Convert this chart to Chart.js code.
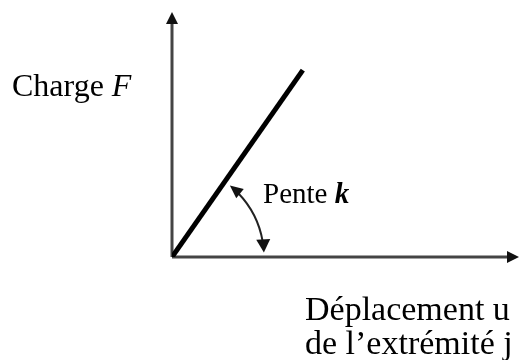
<!DOCTYPE html>
<html>
<head>
<meta charset="utf-8">
<script src="https://cdn.jsdelivr.net/npm/chart.js@4.4.1/dist/chart.umd.min.js"></script>
<style>
  html, body { margin: 0; padding: 0; background: #fff; }
  #wrap { width: 520px; height: 360px; }
</style>
</head>
<body>
<div id="wrap"><canvas id="diagram"></canvas></div>
<script>
// Linear load-displacement line, in axis units (0..100 on both axes)
const lineX = [0, 37.7];
const lineY = [0, 76.3];
const axisMax = 100;

const yLabel = ['Charge ', 'F'];
const xLabel = ['Déplacement u', 'de l\u2019extrémité j'];
const slopeLabel = ['Pente ', 'k'];

const serif = '"Liberation Serif", "Times New Roman", serif';

// filled triangle with its tip at (x, y), pointing along angle a
function arrowHead(ctx, x, y, a, len, half) {
  ctx.save();
  ctx.translate(x, y);
  ctx.rotate(a);
  ctx.beginPath();
  ctx.moveTo(0, 0);
  ctx.lineTo(-len, -half);
  ctx.lineTo(-len, half);
  ctx.closePath();
  ctx.fill();
  ctx.restore();
}

const sketchPlugin = {
  id: 'sketch',
  beforeDatasetsDraw(chart) {
    const ctx = chart.ctx;
    const xs = chart.scales.x, ys = chart.scales.y;
    const ox = xs.getPixelForValue(0), oy = ys.getPixelForValue(0);
    const xEnd = xs.getPixelForValue(axisMax), yEnd = ys.getPixelForValue(axisMax);

    // axes
    ctx.save();
    ctx.strokeStyle = '#444';
    ctx.fillStyle = '#111';
    ctx.lineWidth = 3;
    ctx.beginPath();
    ctx.moveTo(ox, oy);
    ctx.lineTo(ox, yEnd + 8);
    ctx.moveTo(ox, oy);
    ctx.lineTo(xEnd - 8, oy);
    ctx.stroke();
    arrowHead(ctx, ox, yEnd, -Math.PI / 2, 12, 6);
    arrowHead(ctx, xEnd, oy, 0, 12, 6);
    ctx.restore();
  },
  afterDatasetsDraw(chart) {
    const ctx = chart.ctx;
    const xs = chart.scales.x, ys = chart.scales.y;
    const ox = xs.getPixelForValue(0), oy = ys.getPixelForValue(0);
    const lx = xs.getPixelForValue(lineX[1]), ly = ys.getPixelForValue(lineY[1]);
    const theta = Math.atan2(oy - ly, lx - ox);

    // slope angle arc with arrows on both ends
    const r = 92;
    const a0 = 0.05, a1 = theta - 0.07;
    ctx.save();
    ctx.strokeStyle = '#222';
    ctx.fillStyle = '#111';
    ctx.lineWidth = 2;
    ctx.beginPath();
    ctx.arc(ox, oy, r, -a1 + 0.12, -a0 - 0.12);
    ctx.stroke();
    const tx = ox + r * Math.cos(a1), ty = oy - r * Math.sin(a1);
    arrowHead(ctx, tx, ty, -a1 - Math.PI / 2, 13, 6);
    const bx = ox + r * Math.cos(a0), by = oy - r * Math.sin(a0);
    arrowHead(ctx, bx, by, -a0 + Math.PI / 2, 13, 7);
    ctx.restore();

    // labels
    ctx.save();
    ctx.fillStyle = '#000';
    ctx.textBaseline = 'alphabetic';
    ctx.font = '32px ' + serif;
    ctx.fillText(yLabel[0], 12, 96);
    let w = ctx.measureText(yLabel[0]).width;
    ctx.font = 'italic 32px ' + serif;
    ctx.fillText(yLabel[1], 12 + w, 96);

    ctx.font = '29px ' + serif;
    ctx.fillText(slopeLabel[0], 263, 203);
    w = ctx.measureText(slopeLabel[0]).width;
    ctx.font = 'italic bold 29px ' + serif;
    ctx.fillText(slopeLabel[1], 263 + w, 203);

    ctx.font = '34px ' + serif;
    ctx.fillText(xLabel[0], 305, 320);
    ctx.fillText(xLabel[1], 305, 354);
    ctx.restore();
  }
};

new Chart(document.getElementById('diagram'), {
  type: 'scatter',
  data: {
    datasets: [{
      data: lineX.map((x, i) => ({ x: x, y: lineY[i] })),
      showLine: true,
      borderColor: '#000',
      borderWidth: 5,
      borderCapStyle: 'butt',
      pointRadius: 0
    }]
  },
  options: {
    responsive: true,
    maintainAspectRatio: false,
    animation: false,
    layout: { padding: { left: 172, right: 1, top: 12, bottom: 103 } },
    scales: {
      x: { type: 'linear', min: 0, max: axisMax, display: false },
      y: { type: 'linear', min: 0, max: axisMax, display: false }
    },
    plugins: {
      legend: { display: false },
      tooltip: { enabled: false }
    }
  },
  plugins: [sketchPlugin]
});
</script>
</body>
</html>
